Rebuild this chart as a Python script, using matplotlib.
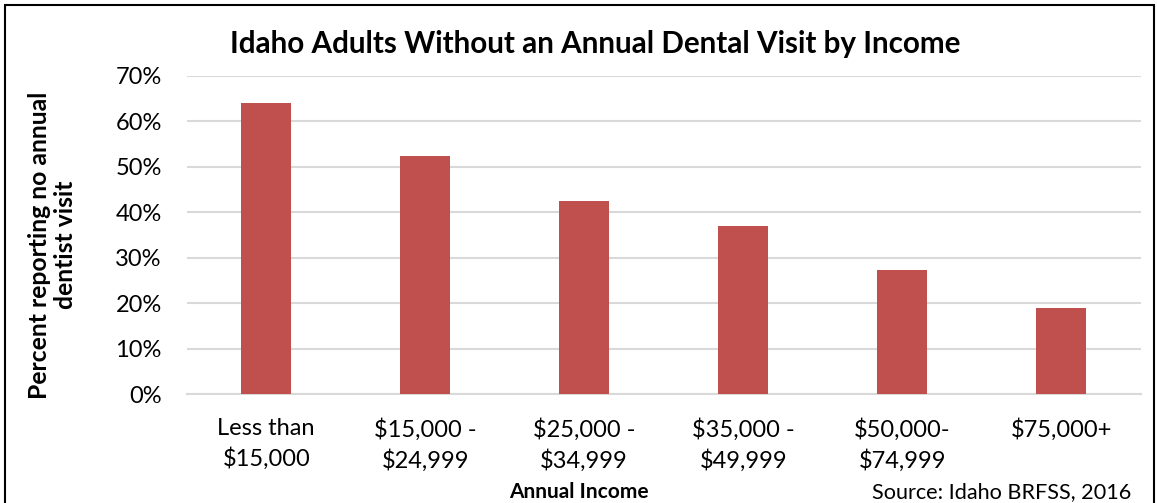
# Idaho adults without an annual dental visit, by income (BRFSS 2016)
import numpy as np
import matplotlib.pyplot as plt
from matplotlib.patches import Rectangle

plt.rcParams['font.family'] = ['Lato', 'DejaVu Sans']

# data
income_groups = ['Less than\n$15,000', '$15,000 -\n$24,999', '$25,000 -\n$34,999',
                 '$35,000 -\n$49,999', '$50,000-\n$74,999', '$75,000+']
pct_no_visit = [64.0, 52.4, 42.4, 37.0, 27.3, 19.0]
y_ticks = [0, 10, 20, 30, 40, 50, 60, 70]

fig = plt.figure(figsize=(11.57, 5.03), dpi=100)
ax = fig.add_axes([0.1614, 0.2161, 0.8245, 0.6334])

x = np.arange(len(income_groups))
ax.bar(x, pct_no_visit, width=0.314, color='#C0504D', zorder=3)

ax.set_xlim(-0.5, len(income_groups) - 0.5)
ax.set_ylim(0, 70)
ax.set_yticks(y_ticks)
ax.set_yticklabels([f'{t}%' for t in y_ticks])
ax.set_xticks(x)
ax.set_xticklabels(income_groups, linespacing=1.45)
ax.tick_params(axis='both', length=0, labelsize=17, colors='black')
ax.tick_params(axis='y', pad=18)
ax.tick_params(axis='x', pad=17)

ax.grid(axis='y', color='#D9D9D9', linewidth=1.5, zorder=0)
for side in ['top', 'right', 'left']:
    ax.spines[side].set_visible(False)
ax.spines['bottom'].set_color('#D9D9D9')
ax.spines['bottom'].set_linewidth(1.5)

fig.text(0.514, 0.912, 'Idaho Adults Without an Annual Dental Visit by Income',
         ha='center', va='center', fontsize=21.3, fontweight='bold')
fig.text(0.0454, 0.513, 'Percent reporting no annual\ndentist visit', rotation=90,
         ha='center', va='center', fontsize=17.8, fontweight='bold', linespacing=1.2)
fig.text(0.5, 0.022, 'Annual Income', ha='center', va='center',
         fontsize=15, fontweight='bold')
fig.text(0.978, 0.021, 'Source: Idaho BRFSS, 2016', ha='right', va='center', fontsize=15.6)

# chart border
fig.patches.append(Rectangle((0.004, -0.1), 0.993, 1.09, transform=fig.transFigure,
                             fill=False, edgecolor='black', linewidth=1.5))

fig.savefig('out.png', dpi=100)
